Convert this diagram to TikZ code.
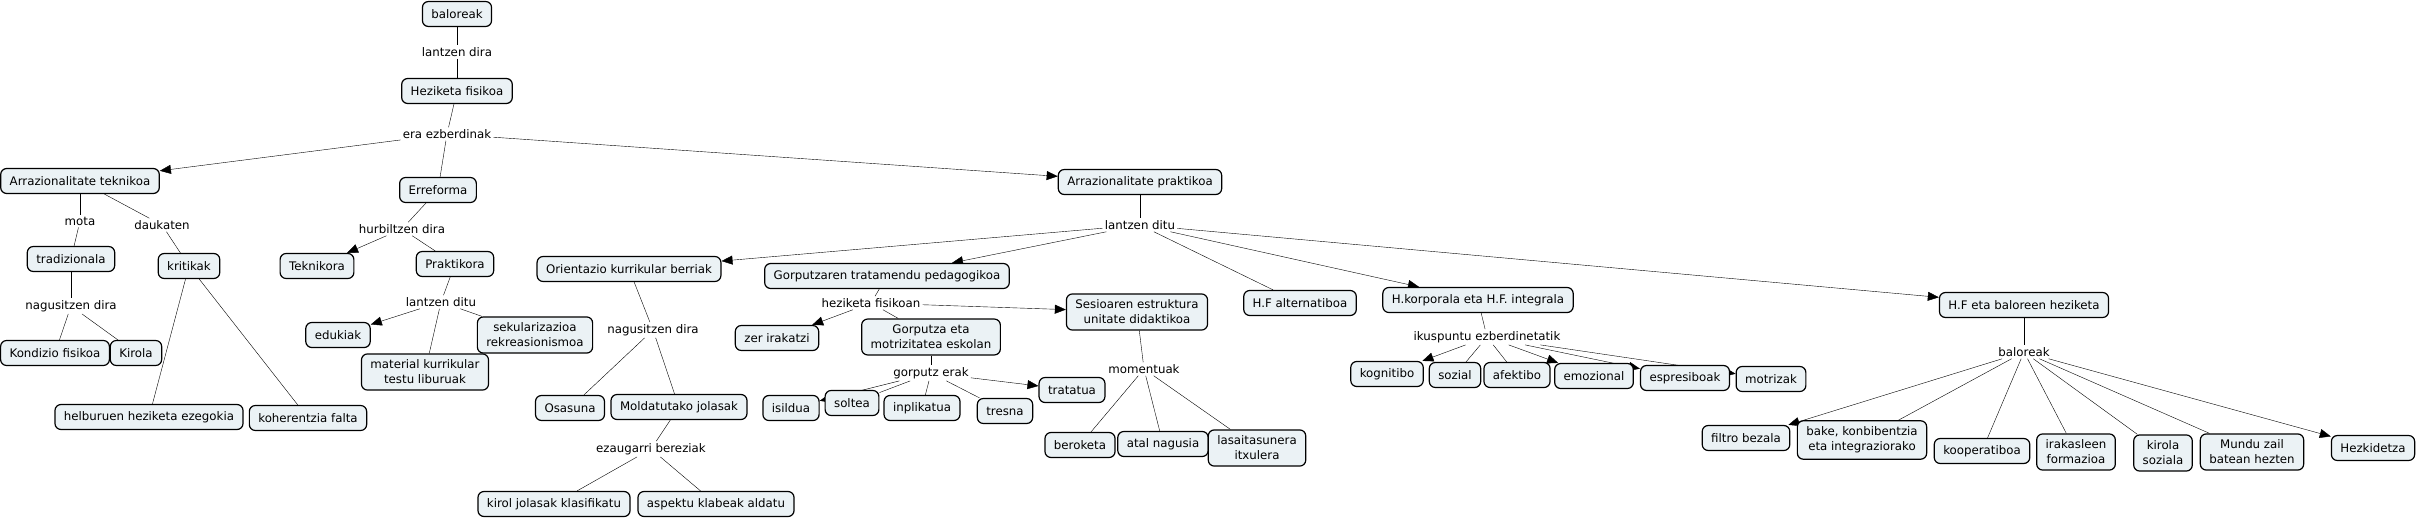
\documentclass[tikz,border=0pt]{standalone}
\usepackage{fontspec}
\setmainfont{DejaVu Sans}
\usetikzlibrary{positioning,arrows.meta,backgrounds}
\definecolor{conceptfill}{RGB}{235,242,245}

\begin{document}
\begin{tikzpicture}
  [x=1pt,y=-1pt,on grid,
   every node/.style={font=\fontsize{11.8}{15}\selectfont,align=center},
   concept/.style={draw,rounded corners=6pt,fill=conceptfill,line width=1.2pt,
                   inner xsep=9pt,inner ysep=6pt,minimum height=25pt},
   link/.style={inner sep=2pt},
   arr/.style={-{Triangle[length=11pt,width=9pt]}}]
  \useasboundingbox (0,0) rectangle (2417,519);
  \node[concept] (n1) at (457,14)                   {baloreak};
  \node[link]    (n2) [below=38pt of n1]            {lantzen dira};
  \node[concept] (n3) [below=39pt of n2]            {Heziketa fisikoa};
  \node[link]    (n4) [below left=43pt and 10pt of n3]   {era ezberdinak};
  \node[concept] (n5) [below left=47pt and 367pt of n4]  {Arrazionalitate teknikoa};
  \node[concept] (n6) [below left=56pt and 9pt of n4]    {Erreforma};
  \node[concept] (n7) [below right=48pt and 693pt of n4] {Arrazionalitate praktikoa};
  \node[link]    (n8) [below=40pt of n5]                 {mota};
  \node[link]    (n9) [below right=44pt and 82pt of n5]  {daukaten};
  \node[concept] (n10) [below left=38pt and 9pt of n8]   {tradizionala};
  \node[concept] (n11) [below right=41pt and 27pt of n9] {kritikak};
  \node[link]    (n12) [below=47pt of n10]               {nagusitzen dira};
  \node[concept] (n13) [below left=47pt and 16pt of n12] {Kondizio fisikoa};
  \node[concept] (n14) [below right=47pt and 65pt of n12] {Kirola};
  \node[concept] (n15) [below left=151pt and 40pt of n11] {helburuen heziketa ezegokia};
  \node[concept] (n16) [below right=152pt and 119pt of n11] {koherentzia falta};
  \node[link]    (n17) [below left=39pt and 36pt of n6]  {hurbiltzen dira};
  \node[concept] (n18) [below left=37pt and 85pt of n17] {Teknikora};
  \node[concept] (n19) [below right=35pt and 53pt of n17] {Praktikora};
  \node[link]    (n20) [below left=38pt and 14pt of n19] {lantzen ditu};
  \node[concept] (n21) [below left=33pt and 103pt of n20] {edukiak};
  \node[concept] (n22) [below left=70pt and 16pt of n20] {material kurrikular\\testu liburuak};
  \node[concept] (n23) [below right=33pt and 94pt of n20] {sekularizazioa\\rekreasionismoa};
  \node[link]    (n24) [below=43pt of n7]                {lantzen ditu};
  \node[concept] (n25) [below left=44pt and 511pt of n24] {Orientazio kurrikular berriak};
  \node[concept] (n26) [below left=51pt and 253pt of n24] {Gorputzaren tratamendu pedagogikoa};
  \node[concept] (n27) [below right=78pt and 160pt of n24] {H.F alternatiboa};
  \node[concept] (n28) [below right=75pt and 338pt of n24] {H.korporala eta H.F. integrala};
  \node[concept] (n29) [below right=80pt and 884pt of n24] {H.F eta baloreen heziketa};
  \node[link]    (n30) [below right=61pt and 24pt of n25] {nagusitzen dira};
  \node[concept] (n31) [below left=78pt and 83pt of n30] {Osasuna};
  \node[concept] (n32) [below right=77pt and 26pt of n30] {Moldatutako jolasak};
  \node[link]    (n33) [below left=42pt and 28pt of n32] {ezaugarri bereziak};
  \node[concept] (n34) [below left=55pt and 97pt of n33] {kirol jolasak klasifikatu};
  \node[concept] (n35) [below right=55pt and 65pt of n33] {aspektu klabeak aldatu};
  \node[link]    (n36) [below left=27pt and 16pt of n26] {heziketa fisikoan};
  \node[concept] (n37) [below left=35pt and 94pt of n36] {zer irakatzi};
  \node[concept] (n38) [below right=34pt and 60pt of n36] {Gorputza eta\\motrizitatea eskolan};
  \node[concept] (n39) [below right=9pt and 266pt of n36] {Sesioaren estruktura\\unitate didaktikoa};
  \node[link]    (n40) [below=36pt of n38]               {gorputz erak};
  \node[concept] (n41) [below left=35pt and 140pt of n40] {isildua};
  \node[concept] (n42) [below left=30pt and 79pt of n40] {soltea};
  \node[concept] (n43) [below left=35pt and 9pt of n40]  {inplikatua};
  \node[concept] (n44) [below right=38pt and 74pt of n40] {tresna};
  \node[concept] (n45) [below right=17pt and 141pt of n40] {tratatua};
  \node[link]    (n46) [below right=57pt and 7pt of n39] {momentuak};
  \node[concept] (n47) [below left=76pt and 64pt of n46] {beroketa};
  \node[concept] (n48) [below right=75pt and 19pt of n46] {atal nagusia};
  \node[concept] (n49) [below right=79pt and 113pt of n46] {lasaitasunera\\itxulera};
  \node[link]    (n50) [below right=37pt and 9pt of n28] {ikuspuntu ezberdinetatik};
  \node[concept] (n51) [below left=37pt and 100pt of n50] {kognitibo};
  \node[concept] (n52) [below left=38pt and 32pt of n50] {sozial};
  \node[concept] (n53) [below right=38pt and 30pt of n50] {afektibo};
  \node[concept] (n54) [below right=39pt and 107pt of n50] {emozional};
  \node[concept] (n55) [below right=41pt and 198pt of n50] {espresiboak};
  \node[concept] (n56) [below right=42pt and 284pt of n50] {motrizak};
  \node[link]    (n57) [below=47pt of n29]               {baloreak};
  \node[concept] (n58) [below left=86pt and 278pt of n57] {filtro bezala};
  \node[concept] (n59) [below left=88pt and 162pt of n57] {bake, konbibentzia\\eta integraziorako};
  \node[concept] (n60) [below left=99pt and 42pt of n57] {kooperatiboa};
  \node[concept] (n61) [below right=100pt and 52pt of n57] {irakasleen\\formazioa};
  \node[concept] (n62) [below right=101pt and 139pt of n57] {kirola\\soziala};
  \node[concept] (n63) [below right=100pt and 228pt of n57] {Mundu zail\\batean hezten};
  \node[concept] (n64) [below right=96pt and 349pt of n57] {Hezkidetza};

  \begin{scope}[on background layer,line width=1.3pt]
\foreach \from/\to in
{n1/n2,n2/n3,n3/n4,n4/n6,n5/n8,n8/n10,n5/n9,n9/n11,n10/n12,n12/n13,n12/n14,
 n11/n15,n11/n16,n6/n17,n17/n19,n19/n20,n20/n22,n20/n23,n7/n24,n24/n27,
 n25/n30,n30/n31,n30/n32,n32/n33,n33/n34,n33/n35,n26/n36,n36/n38,n38/n40,
 n40/n42,n40/n43,n40/n44,n39/n46,n46/n47,n46/n48,n46/n49,n28/n50,n50/n52,
 n50/n53,n29/n57,n57/n59,n57/n60,n57/n61,n57/n62,n57/n63}
    \draw (\from) -- (\to);
\foreach \from/\to in
{n4/n5,n4/n7,n17/n18,n20/n21,n24/n25,n24/n26,n24/n28,n24/n29,n36/n37,n36/n39,
 n40/n41,n40/n45,n50/n51,n50/n54,n50/n55,n50/n56,n57/n58,n57/n64}
    \draw[arr] (\from) -- (\to);
  \end{scope}
\end{tikzpicture}
\end{document}
